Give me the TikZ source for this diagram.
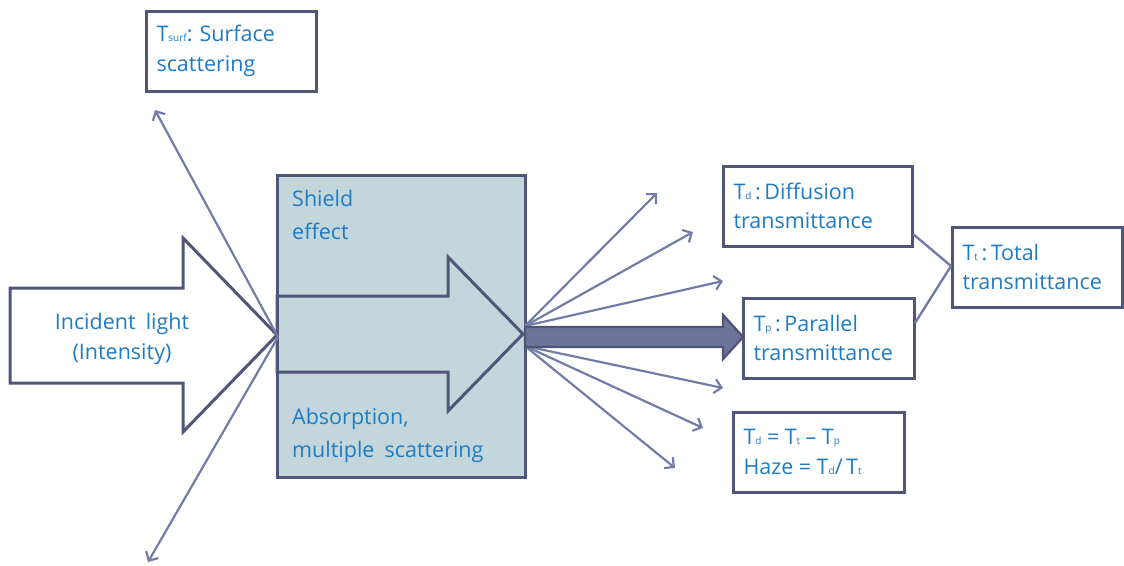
\documentclass[tikz,border=0pt]{standalone}
\usepackage{fontspec}
\setmainfont[WordSpace=1.8]{Open Sans}
\usetikzlibrary{arrows.meta}
\definecolor{txtblue}{HTML}{1F7BC4}
\definecolor{bordc}{HTML}{4F5677}
\definecolor{linec}{HTML}{727CA6}
\definecolor{thickc}{HTML}{6C7599}
\definecolor{shieldc}{HTML}{C3D6DC}
\newcommand{\lowsub}[1]{{\fontsize{10}{10}\selectfont #1}}
\newcommand{\medsp}{\hspace{5.5pt}}
\frenchspacing
\tikzset{
  x=1pt, y=-1pt,
  txt/.style={text=txtblue, font=\fontsize{21.5}{29.5}\selectfont},
  infobox/.style={txt, draw=bordc, line width=3pt, fill=white, align=left,
     inner xsep=10.5pt, inner ysep=0pt, minimum height=80pt},
  bigarrow/.style={draw=bordc, line width=3pt, line join=miter},
  ray/.style={draw=linec, line width=2.2pt, -{Straight Barb[length=7pt,width=14pt]}},
  joinline/.style={draw=linec, line width=2.4pt},
}
\begin{document}
\begin{tikzpicture}
\useasboundingbox (0,0) rectangle (1124,565);

% shield box
\node[draw=bordc, line width=3pt, fill=shieldc, minimum width=248pt, minimum height=302pt, inner sep=0pt] (shield) at (401.5,326.5) {};
\node[txt, anchor=north west, align=left, inner sep=0pt, font=\fontsize{21.5}{33}\selectfont] (shieldtxt) at (292,190) {Shield\\effect};
\node[txt, anchor=south west, align=left, inner sep=0pt, font=\fontsize{21.5}{33}\selectfont] (abstxt) at (292,463) {Absorption,\\multiple scattering};

% inner arrow
\draw[bigarrow] (277,296) -- (448,296) -- (448,257) -- (523,334) -- (448,411) -- (448,372) -- (277,372) -- cycle;

% incident arrow
\draw[bigarrow, fill=white] (10,288) -- (183,288) -- (183,238) -- (277,335) -- (183,432) -- (183,383) -- (10,383) -- cycle;
\node[txt, align=center, inner sep=0pt] (inc) at (122,339) {Incident light\\(Intensity)};

% info boxes
\node[infobox, text width=149pt] (tsurf) at (231,51) {T\lowsub{surf}: Surface\\scattering};
\node[infobox, text width=168pt] (td) at (817.5,206) {T\lowsub{d}\,:\,Diffusion\\transmittance};
\node[infobox, text width=150pt] (tp) at (828.5,338) {T\lowsub{p}\,:\,Parallel\\transmittance};
\node[infobox, text width=149pt] (tt) at (1037,267) {T\lowsub{t}\,:\,Total\\transmittance};
\node[infobox, text width=150pt] (haze) at (818.5,452) {T\lowsub{d}\medsp=\medsp T\lowsub{t}\medsp--\medsp T\lowsub{p}\\Haze\medsp=\medsp T\lowsub{d}/\,T\lowsub{t}};

% scattering at the surface
\coordinate (tip) at (278,337);
\coordinate (surfend) at (155,110);
\coordinate (downend) at (148,562);
\draw[ray] (tip) -- (surfend);
\draw[ray] (tip) -- (downend);

% transmitted fan
\coordinate (fanup) at (525,326);
\coordinate (fandown) at (525,346);
\coordinate (e1) at (657,193);
\coordinate (e2) at (693,232);
\coordinate (e3) at (723,281);
\coordinate (e4) at (723,388);
\coordinate (e5) at (703,428);
\coordinate (e6) at (675,468);
\foreach \e in {e1,e2,e3} \draw[ray] (fanup) -- (\e);
\foreach \e in {e4,e5,e6} \draw[ray] (fandown) -- (\e);

% thick parallel arrow
\draw[draw=bordc, fill=thickc, line width=2.4pt, line join=miter] (525,327) -- (723,327) -- (723,315) -- (743,337) -- (723,359) -- (723,347) -- (525,347) -- cycle;

% joining lines to total
\coordinate (tdout) at (913,234);
\coordinate (tpout) at (915,323);
\coordinate (ttin) at (951,266);
\draw[joinline] (tdout) -- (ttin);
\draw[joinline] (tpout) -- (ttin);
\end{tikzpicture}
\end{document}
